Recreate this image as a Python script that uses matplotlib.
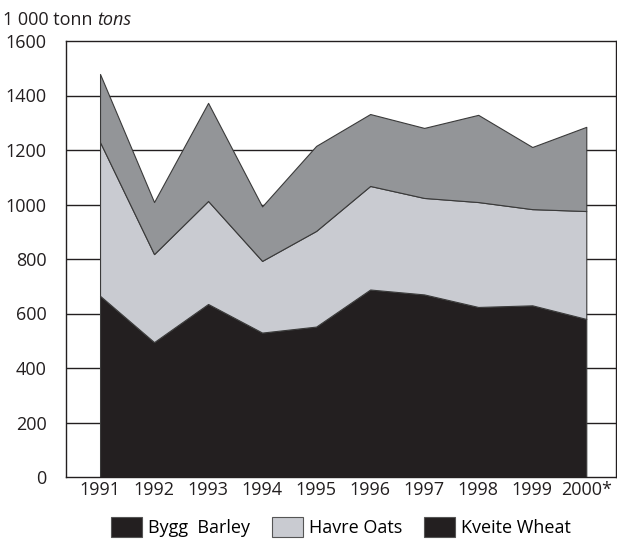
import matplotlib
matplotlib.use("Agg")
import matplotlib.pyplot as plt
from matplotlib.patches import Patch

plt.rcParams['font.family'] = ['Open Sans', 'DejaVu Sans']

years = [1991, 1992, 1993, 1994, 1995, 1996, 1997, 1998, 1999, 2000]
year_labels = ['1991', '1992', '1993', '1994', '1995', '1996', '1997', '1998', '1999', '2000*']
barley = [665, 495, 635, 530, 552, 688, 670, 624, 630, 580]
oats = [564, 323, 378, 263, 351, 380, 354, 385, 353, 396]
wheat = [250, 191, 360, 200, 312, 264, 257, 320, 228, 309]

c_barley = '#231f20'
c_oats = '#c9cbd1'
c_wheat = '#939598'
fs = 13

fig = plt.figure(figsize=(6.17, 5.40), dpi=100)
ax = fig.add_axes([66/617, 1-477/540, 550/617, 436/540])

# horizontal grid behind the areas
for v in range(200, 1600, 200):
    ax.axhline(v, color='#231f20', lw=1.0, zorder=0)

ax.stackplot(years, barley, oats, wheat,
             colors=[c_barley, c_oats, c_wheat],
             edgecolor='#3a3a3a', linewidth=0.8, zorder=2)

ax.set_xlim(1990.37, 2000.55)
ax.set_ylim(0, 1600)
ax.set_yticks(range(0, 1601, 200))
ax.set_xticks(years)
ax.set_xticklabels(year_labels)
ax.tick_params(length=0, labelsize=fs, colors='#231f20', pad=3)
ax.tick_params(axis='y', pad=14)
for s in ax.spines.values():
    s.set_color('#231f20')
    s.set_linewidth(1.0)

t1 = fig.text(3/617, 1-20/540, '1 000 tonn ', fontsize=fs, va='center', color='#231f20')
fig.canvas.draw()
bb = t1.get_window_extent()
fig.text(bb.x1/617, 1-20/540, 'tons', fontsize=fs, style='italic', va='center', color='#231f20')

handles = [Patch(facecolor=c_barley, edgecolor='#555555', lw=0.8),
           Patch(facecolor=c_oats, edgecolor='#555555', lw=0.8),
           Patch(facecolor=c_barley, edgecolor='#555555', lw=0.8)]
fig.legend(handles, ['Bygg  Barley', 'Havre Oats', 'Kveite Wheat'],
           loc='center', bbox_to_anchor=(0.553, 1-527/540), ncol=3, frameon=False,
           fontsize=fs, handlelength=1.7, handleheight=1.4, columnspacing=1.2,
           handletextpad=0.35, borderaxespad=0)

fig.savefig('out.png', dpi=100)
